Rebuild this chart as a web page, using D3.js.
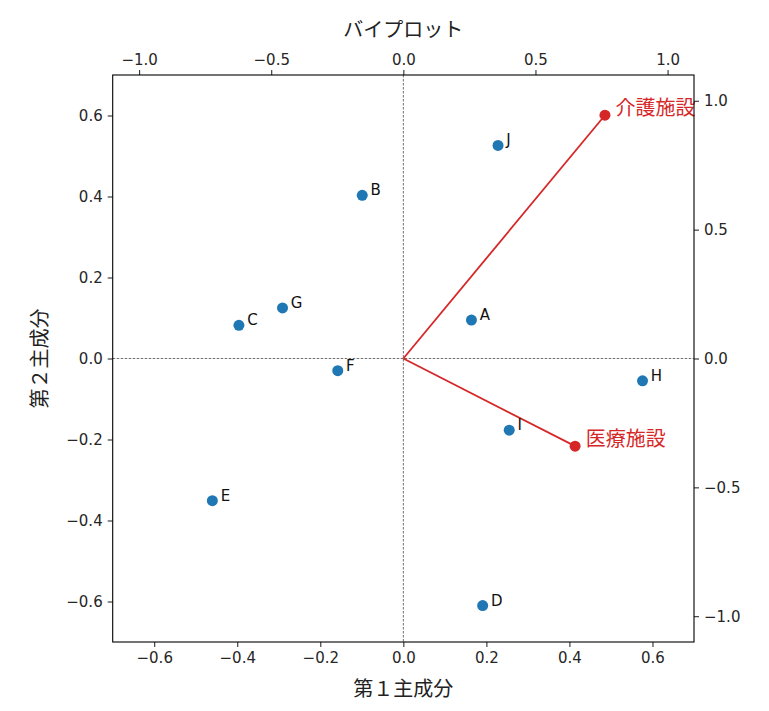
<!DOCTYPE html>
<html>
<head>
<meta charset="utf-8">
<script src="https://cdn.jsdelivr.net/npm/d3@7"></script>
<style>
  body { margin: 0; background: #fff; }
  .jp { font-family: "Noto Sans CJK JP", sans-serif; }
</style>
</head>
<body>
<div id="chart"></div>
<script>
// scores (bottom / left axes)
const sampleNames = ["A", "B", "C", "D", "E", "F", "G", "H", "I", "J"];
const pc1Scores = [0.164, -0.099, -0.396, 0.191, -0.460, -0.158, -0.291, 0.576, 0.255, 0.228];
const pc2Scores = [0.095, 0.403, 0.082, -0.610, -0.351, -0.030, 0.125, -0.055, -0.177, 0.526];

// loadings (top / right axes)
const variableNames = ["介護施設", "医療施設"];
const pc1Loadings = [0.763, 0.650];
const pc2Loadings = [0.944, -0.340];

const scoreTicks = [-0.6, -0.4, -0.2, 0.0, 0.2, 0.4, 0.6];
const loadingTicks = [-1.0, -0.5, 0.0, 0.5, 1.0];

const width = 769;
const height = 711;
const margin = { top: 75, right: 75, bottom: 69, left: 112.7 };
const plotWidth = width - margin.left - margin.right;
const plotHeight = height - margin.top - margin.bottom;

const svg = d3.select("#chart").append("svg")
    .attr("width", width)
    .attr("height", height);

const g = svg.append("g")
    .attr("transform", `translate(${margin.left}, ${margin.top})`);

const xScore = d3.scaleLinear().domain([-0.7, 0.7]).range([0, plotWidth]);
const yScore = d3.scaleLinear().domain([-0.7, 0.7]).range([plotHeight, 0]);
const xLoad = d3.scaleLinear().domain([-1.1, 1.1]).range([0, plotWidth]);
const yLoad = d3.scaleLinear().domain([-1.1, 1.1]).range([plotHeight, 0]);

const fmt = d3.format(".1f");

function styleAxis(sel) {
    sel.selectAll(".domain").remove();
    sel.selectAll(".tick line").attr("stroke", "#000").attr("stroke-width", 0.9);
    sel.selectAll(".tick text")
        .attr("font-family", "DejaVu Sans, sans-serif")
        .attr("font-size", 15)
        .attr("fill", "#262626");
}

g.append("g")
    .attr("transform", `translate(0, ${plotHeight})`)
    .call(d3.axisBottom(xScore).tickValues(scoreTicks).tickFormat(fmt).tickSize(5).tickPadding(5))
    .call(styleAxis);

g.append("g")
    .call(d3.axisLeft(yScore).tickValues(scoreTicks).tickFormat(fmt).tickSize(5).tickPadding(5))
    .call(styleAxis);

g.append("g")
    .call(d3.axisTop(xLoad).tickValues(loadingTicks).tickFormat(fmt).tickSize(5).tickPadding(5))
    .call(styleAxis);

g.append("g")
    .attr("transform", `translate(${plotWidth}, 0)`)
    .call(d3.axisRight(yLoad).tickValues(loadingTicks).tickFormat(fmt).tickSize(5).tickPadding(5))
    .call(styleAxis);

// zero lines
g.append("line")
    .attr("x1", 0).attr("x2", plotWidth)
    .attr("y1", yScore(0)).attr("y2", yScore(0))
    .attr("stroke", "#333").attr("stroke-width", 0.7).attr("stroke-dasharray", "2.5,1.5");

g.append("line")
    .attr("x1", xScore(0)).attr("x2", xScore(0))
    .attr("y1", 0).attr("y2", plotHeight)
    .attr("stroke", "#333").attr("stroke-width", 0.7).attr("stroke-dasharray", "2.5,1.5");

// loading arrows
const loadings = variableNames.map((name, i) => ({ name, x: pc1Loadings[i], y: pc2Loadings[i] }));

g.selectAll(".load-line")
    .data(loadings)
    .enter()
    .append("line")
    .attr("class", "load-line")
    .attr("x1", xLoad(0)).attr("y1", yLoad(0))
    .attr("x2", d => xLoad(d.x)).attr("y2", d => yLoad(d.y))
    .attr("stroke", "#d62728")
    .attr("stroke-width", 1.8);

g.selectAll(".load-dot")
    .data(loadings)
    .enter()
    .append("circle")
    .attr("cx", d => xLoad(d.x))
    .attr("cy", d => yLoad(d.y))
    .attr("r", 5.5)
    .attr("fill", "#d62728");

g.selectAll(".load-label")
    .data(loadings)
    .enter()
    .append("text")
    .attr("class", "jp")
    .attr("x", d => xLoad(d.x + 0.04))
    .attr("y", d => yLoad(d.y))
    .attr("font-size", 20)
    .attr("fill", "#d62728")
    .text(d => d.name);

// score points
const scores = sampleNames.map((name, i) => ({ name, x: pc1Scores[i], y: pc2Scores[i] }));

g.selectAll(".score-dot")
    .data(scores)
    .enter()
    .append("circle")
    .attr("cx", d => xScore(d.x))
    .attr("cy", d => yScore(d.y))
    .attr("r", 5.5)
    .attr("fill", "#1f77b4");

g.selectAll(".score-label")
    .data(scores)
    .enter()
    .append("text")
    .attr("x", d => xScore(d.x + 0.02))
    .attr("y", d => yScore(d.y))
    .attr("font-family", "DejaVu Sans, sans-serif")
    .attr("font-size", 15)
    .attr("fill", "#111")
    .text(d => d.name);

// frame
g.append("rect")
    .attr("width", plotWidth)
    .attr("height", plotHeight)
    .attr("fill", "none")
    .attr("stroke", "#000")
    .attr("stroke-width", 1.1);

// titles
svg.append("text")
    .attr("class", "jp")
    .attr("x", margin.left + plotWidth / 2)
    .attr("y", 37)
    .attr("text-anchor", "middle")
    .attr("font-size", 20)
    .attr("fill", "#222")
    .text("バイプロット");

svg.append("text")
    .attr("class", "jp")
    .attr("x", margin.left + plotWidth / 2)
    .attr("y", 696)
    .attr("text-anchor", "middle")
    .attr("font-size", 20)
    .attr("fill", "#222")
    .text("第１主成分");

svg.append("text")
    .attr("class", "jp")
    .attr("transform", `translate(47, ${margin.top + plotHeight / 2}) rotate(-90)`)
    .attr("text-anchor", "middle")
    .attr("font-size", 20)
    .attr("fill", "#222")
    .text("第２主成分");
</script>
</body>
</html>
